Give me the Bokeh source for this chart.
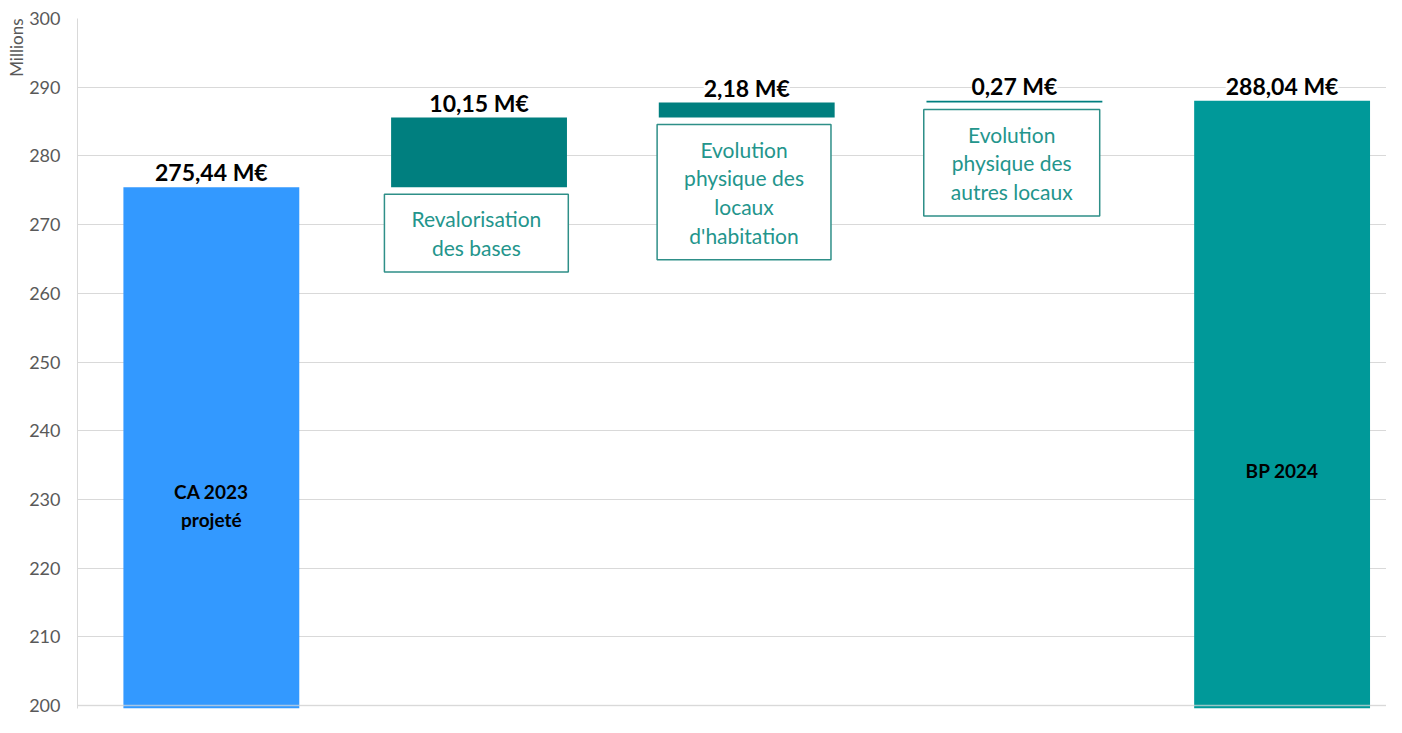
from bokeh.plotting import figure
from bokeh.models import ColumnDataSource, LabelSet, Label, Range1d, FixedTicker, Span, Title
from bokeh.core.properties import value
from bokeh.embed import file_html
from bokeh.resources import INLINE

# ---- data ----
categories = ["CA 2023 projeté", "Revalorisation des bases",
              "Evolution physique des locaux d'habitation",
              "Evolution physique des autres locaux", "BP 2024"]
kinds = ["total", "delta", "delta", "delta", "total"]
values = [275.44, 10.15, 2.18, 0.27, 288.04]
value_labels = ["275,44 M€", "10,15 M€", "2,18 M€", "0,27 M€", "288,04 M€"]
inner_labels = ["CA 2023\nprojeté", "", "", "", "BP 2024"]
box_labels = ["", "Revalorisation\ndes bases",
              "Evolution\nphysique des\nlocaux\nd'habitation",
              "Evolution\nphysique des\nautres locaux", ""]
bar_colors = ["#3399FF", "#007F7F", "#007F7F", "#007F7F", "#009999"]
y_ticks = [200, 210, 220, 230, 240, 250, 260, 270, 280, 290, 300]

FONT = "Lato"

# waterfall bottoms / tops
bottoms, tops = [], []
running = 0.0
for k, v in zip(kinds, values):
    if k == "total":
        bottoms.append(0.0)
        tops.append(v)
        running = v
    else:
        bottoms.append(running)
        tops.append(running + v)
        running += v

xs = list(range(len(categories)))
src = ColumnDataSource(dict(x=xs, cat=categories, bottom=bottoms, top=tops,
                            color=bar_colors, vlabel=value_labels))

p = figure(width=1386, height=717, output_backend="svg", toolbar_location=None,
           x_range=Range1d(-0.5, 4.39), y_range=Range1d(199.57, 300),
           x_axis_location=None, min_border_left=77, min_border_right=0,
           min_border_top=18, min_border_bottom=9)
p.outline_line_color = None
p.background_fill_color = "white"

p.xgrid.visible = False
p.ygrid.ticker = FixedTicker(ticks=y_ticks)
p.ygrid.grid_line_color = "#d9d9d9"
p.ygrid.grid_line_width = 1

ax = p.yaxis[0]
ax.ticker = FixedTicker(ticks=y_ticks)
ax.major_tick_line_color = None
ax.minor_tick_line_color = None
ax.axis_line_color = "#d9d9d9"
ax.major_label_text_color = "#595959"
ax.major_label_text_font = FONT
ax.major_label_text_font_size = "18px"
ax.major_label_standoff = 11

p.add_layout(Title(text="Millions", align="right", text_font=FONT,
                   text_font_size="17px", text_font_style="normal",
                   text_color="#595959", standoff=0), "left")

p.vbar(x="x", width=0.657, bottom="bottom", top="top", fill_color="color",
       line_color=None, source=src)

# axis line at 200 drawn over bars
p.add_layout(Span(location=200, dimension="width", line_color="#d9d9d9",
                  line_alpha=0.7, line_width=1.5, level="overlay"))

# value labels above bars
p.add_layout(LabelSet(x="x", y="top", text="vlabel", source=src, y_offset=15,
                      text_align="center", text_baseline="middle",
                      text_font=value(FONT), text_font_style="bold",
                      text_font_size="23px", text_color="#000000",
                      background_fill_color="white"))

# labels inside total bars
inner_y = {0: 229.1, 4: 234.2}
for i, t in enumerate(inner_labels):
    if t:
        p.add_layout(Label(x=i, y=inner_y[i], text=t, text_align="center",
                           text_baseline="middle", text_font=FONT,
                           text_font_style="bold", text_font_size="19px",
                           text_color="#000000", text_line_height=1.22))

# boxed descriptions under delta bars
for i, t in enumerate(box_labels):
    if t:
        p.add_layout(Label(x=i - 0.01, y=bottoms[i], y_offset=-7, text=t,
                           text_align="center", text_baseline="top",
                           text_font=FONT, text_font_size="21px",
                           text_color="#23958C", text_line_height=1.15,
                           background_fill_color="white",
                           border_line_color="#2E8F88", border_line_width=1.5,
                           padding=(27, 12)))

open("out.html", "w").write(file_html(p, INLINE))
